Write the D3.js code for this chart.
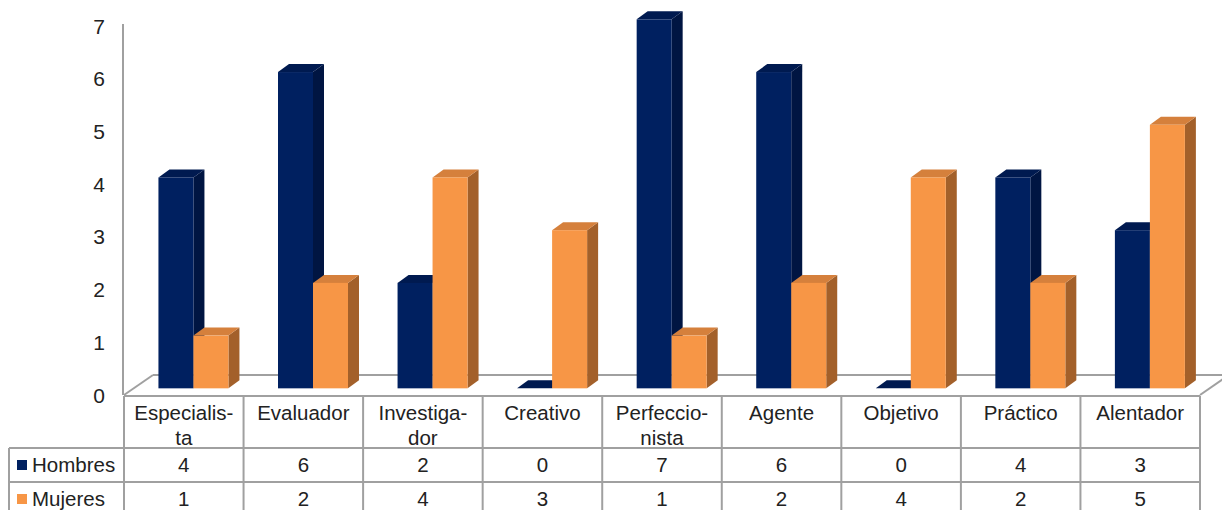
<!DOCTYPE html>
<html>
<head>
<meta charset="utf-8">
<script src="https://cdn.jsdelivr.net/npm/d3@7"></script>
<style>
  body { margin: 0; background: #fff; }
  text { font-family: "Liberation Sans", Arial, sans-serif; fill: #222; }
</style>
</head>
<body>
<div id="chart"></div>
<script>
// data
let categories = ["Especialis-\nta", "Evaluador", "Investiga-\ndor", "Creativo", "Perfeccio-\nnista", "Agente", "Objetivo", "Práctico", "Alentador"];
let seriesNames = ["Hombres", "Mujeres"];
let hombres = [4, 6, 2, 0, 7, 6, 0, 4, 3];
let mujeres = [1, 2, 4, 3, 1, 2, 4, 2, 5];
let yTicks = [0, 1, 2, 3, 4, 5, 6, 7];

let width = 1222, height = 510;
let gridColor = "#a0a0a0";

// colours: front, side, top
let colors = {
  Hombres: ["#002060", "#001542", "#001a50"],
  Mujeres: ["#f79646", "#a3602a", "#d5803c"]
};

let svg = d3.select("#chart")
  .append("svg")
  .attr("width", width)
  .attr("height", height);

// scales (front plane of the floor)
let x = d3.scaleBand()
  .domain(categories)
  .range([124, 1200]);

let y = d3.scaleLinear()
  .domain([0, 7])
  .range([395, 26]);

// 3D depth of the floor and of the bars
let floorDx = 29, floorDy = -20;
let offDx = floorDx / 3, offDy = floorDy / 3;   // bar front sits a third into the floor
let barDx = 11, barDy = -8;                       // bar depth
let groupW = 70;

let sub = d3.scaleBand()
  .domain(seriesNames)
  .range([0, groupW]);

// floor + left axis line
let floor = svg.append("g")
  .attr("fill", "none")
  .attr("stroke", gridColor)
  .attr("stroke-width", 2);

floor.append("line")
  .attr("x1", x.range()[0] + floorDx).attr("y1", y(0) + floorDy)
  .attr("x2", width + 10).attr("y2", y(0) + floorDy);
floor.append("line")
  .attr("x1", x.range()[0]).attr("y1", y(0))
  .attr("x2", x.range()[0] + floorDx).attr("y2", y(0) + floorDy);
floor.append("line")
  .attr("x1", x.range()[1]).attr("y1", y(0))
  .attr("x2", x.range()[1] + floorDx).attr("y2", y(0) + floorDy);
floor.append("line")
  .attr("x1", 123).attr("y1", y(7) - 2)
  .attr("x2", 123).attr("y2", y(0));

// y tick labels
svg.append("g")
  .selectAll("text")
  .data(yTicks)
  .enter()
  .append("text")
  .attr("x", 105)
  .attr("y", d => y(d))
  .attr("dy", "0.36em")
  .attr("text-anchor", "end")
  .attr("font-size", "21px")
  .text(d => d);

// bars, drawn left to right so the faces overlap correctly
let bars = [];
categories.forEach(function(c, i) {
  bars.push({cat: c, s: "Hombres", v: hombres[i]});
  bars.push({cat: c, s: "Mujeres", v: mujeres[i]});
});

let bw = sub.bandwidth();

let barG = svg.append("g")
  .selectAll("g")
  .data(bars)
  .enter()
  .append("g");

function geom(d) {
  let x0 = x(d.cat) + (x.bandwidth() - groupW) / 2 + sub(d.s) + offDx;
  let yTop = y(d.v) + offDy;
  let yBot = y(0) + offDy;
  return {x0: x0, x1: x0 + bw, yTop: yTop, yBot: yBot};
}

// side face
barG.append("polygon")
  .attr("points", function(d) {
    let g = geom(d);
    return [[g.x1, g.yTop], [g.x1 + barDx, g.yTop + barDy], [g.x1 + barDx, g.yBot + barDy], [g.x1, g.yBot]].join(" ");
  })
  .attr("fill", d => colors[d.s][1]);

// top face
barG.append("polygon")
  .attr("points", function(d) {
    let g = geom(d);
    return [[g.x0, g.yTop], [g.x0 + barDx, g.yTop + barDy], [g.x1 + barDx, g.yTop + barDy], [g.x1, g.yTop]].join(" ");
  })
  .attr("fill", d => colors[d.s][2]);

// front face
barG.append("rect")
  .attr("x", d => geom(d).x0)
  .attr("y", d => geom(d).yTop)
  .attr("width", bw)
  .attr("height", d => geom(d).yBot - geom(d).yTop)
  .attr("fill", d => colors[d.s][0]);

// data table
let tableTop = 396, headH = 52, rowH = 34, legendLeft = 9;
let table = svg.append("g")
  .attr("stroke", gridColor)
  .attr("stroke-width", 2);

table.append("line")
  .attr("x1", x.range()[0]).attr("y1", tableTop)
  .attr("x2", x.range()[1]).attr("y2", tableTop);
[1, 2, 3].forEach(function(r) {
  table.append("line")
    .attr("x1", legendLeft).attr("y1", tableTop + headH + rowH * (r - 1))
    .attr("x2", x.range()[1]).attr("y2", tableTop + headH + rowH * (r - 1));
});
table.append("line")
  .attr("x1", legendLeft).attr("y1", tableTop + headH)
  .attr("x2", legendLeft).attr("y2", height + 10);
table.selectAll(".vline")
  .data(categories.concat(["end"]))
  .enter()
  .append("line")
  .attr("class", "vline")
  .attr("x1", (d, i) => x.range()[0] + i * x.bandwidth())
  .attr("x2", (d, i) => x.range()[0] + i * x.bandwidth())
  .attr("y1", tableTop)
  .attr("y2", height + 10);

// category labels
svg.append("g")
  .selectAll("text")
  .data(categories)
  .enter()
  .append("text")
  .attr("text-anchor", "middle")
  .attr("font-size", "20.5px")
  .each(function(d) {
    let t = d3.select(this);
    d.split("\n").forEach(function(line, k) {
      t.append("tspan")
        .attr("x", x(d) + x.bandwidth() / 2)
        .attr("y", 413 + k * 25)
        .attr("dy", "0.36em")
        .text(line);
    });
  });

// value rows
let rows = [hombres, mujeres];
rows.forEach(function(vals, r) {
  let cy = tableTop + headH + rowH * r + rowH / 2;
  svg.append("rect")
    .attr("x", 17)
    .attr("y", cy - 5)
    .attr("width", 10)
    .attr("height", 10)
    .attr("fill", colors[seriesNames[r]][0]);
  svg.append("text")
    .attr("x", 32)
    .attr("y", cy)
    .attr("dy", "0.36em")
    .attr("font-size", "20.5px")
    .text(seriesNames[r]);
  svg.append("g")
    .selectAll("text")
    .data(vals)
    .enter()
    .append("text")
    .attr("x", (d, i) => x(categories[i]) + x.bandwidth() / 2)
    .attr("y", cy)
    .attr("dy", "0.36em")
    .attr("text-anchor", "middle")
    .attr("font-size", "20.5px")
    .text(d => d);
});
</script>
</body>
</html>
